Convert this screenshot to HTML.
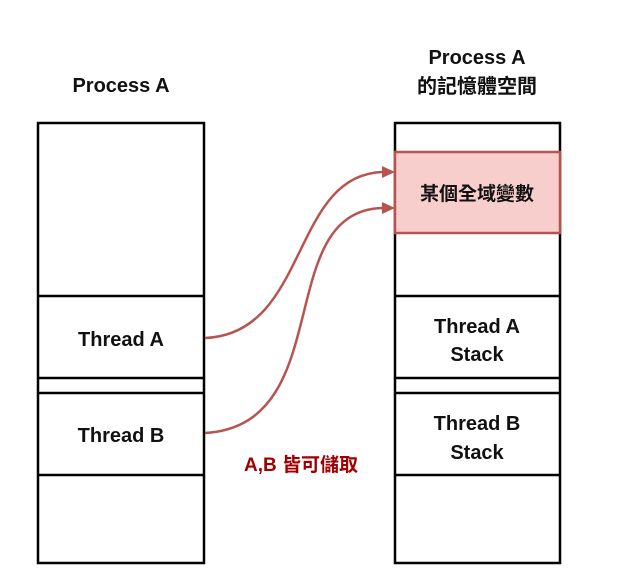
<html><body style="margin:0;width:618px;height:577px;background:#fff;position:relative;overflow:hidden;font-family:'Liberation Sans','Noto Sans CJK TC',sans-serif">
<svg width="618" height="577" style="position:absolute;left:0;top:0">
<g fill="none" stroke="#000" stroke-width="2.5">
<rect x="38" y="123" width="166" height="440"/>
<line x1="38" y1="296" x2="204" y2="296"/>
<line x1="38" y1="378" x2="204" y2="378"/>
<line x1="38" y1="393" x2="204" y2="393"/>
<line x1="38" y1="475" x2="204" y2="475"/>
<rect x="395" y="123" width="165" height="440"/>
<line x1="395" y1="296" x2="560" y2="296"/>
<line x1="395" y1="378" x2="560" y2="378"/>
<line x1="395" y1="393" x2="560" y2="393"/>
<line x1="395" y1="475" x2="560" y2="475"/>
</g>
<rect x="395" y="152" width="165" height="81" fill="#f8cecc" stroke="#b85450" stroke-width="2.5"/>
<g fill="none" stroke="#b85450" stroke-width="2.5">
<path d="M205 338 C310 334 290 172 385 172"/>
<path d="M205 433 C340 425 270 208 385 208"/>
</g>
<polygon points="395,172 382,166 382,178" fill="#b85450"/>
<polygon points="395,208 382,202 382,214" fill="#b85450"/>
<g font-weight="bold" font-size="20" text-anchor="middle" fill="#111">
<text x="121" y="92">Process A</text>
<text x="477" y="64">Process A</text>
<text x="477" y="93">的記憶體空間</text>
<text x="477" y="200" font-size="19">某個全域變數</text>
<text x="121" y="346">Thread A</text>
<text x="121" y="442">Thread B</text>
<text x="477" y="333">Thread A</text>
<text x="477" y="361">Stack</text>
<text x="477" y="430">Thread B</text>
<text x="477" y="459">Stack</text>
<text x="301" y="471" fill="#a20000" font-size="19">A,B 皆可儲取</text>
</g>
</svg>
</body></html>
